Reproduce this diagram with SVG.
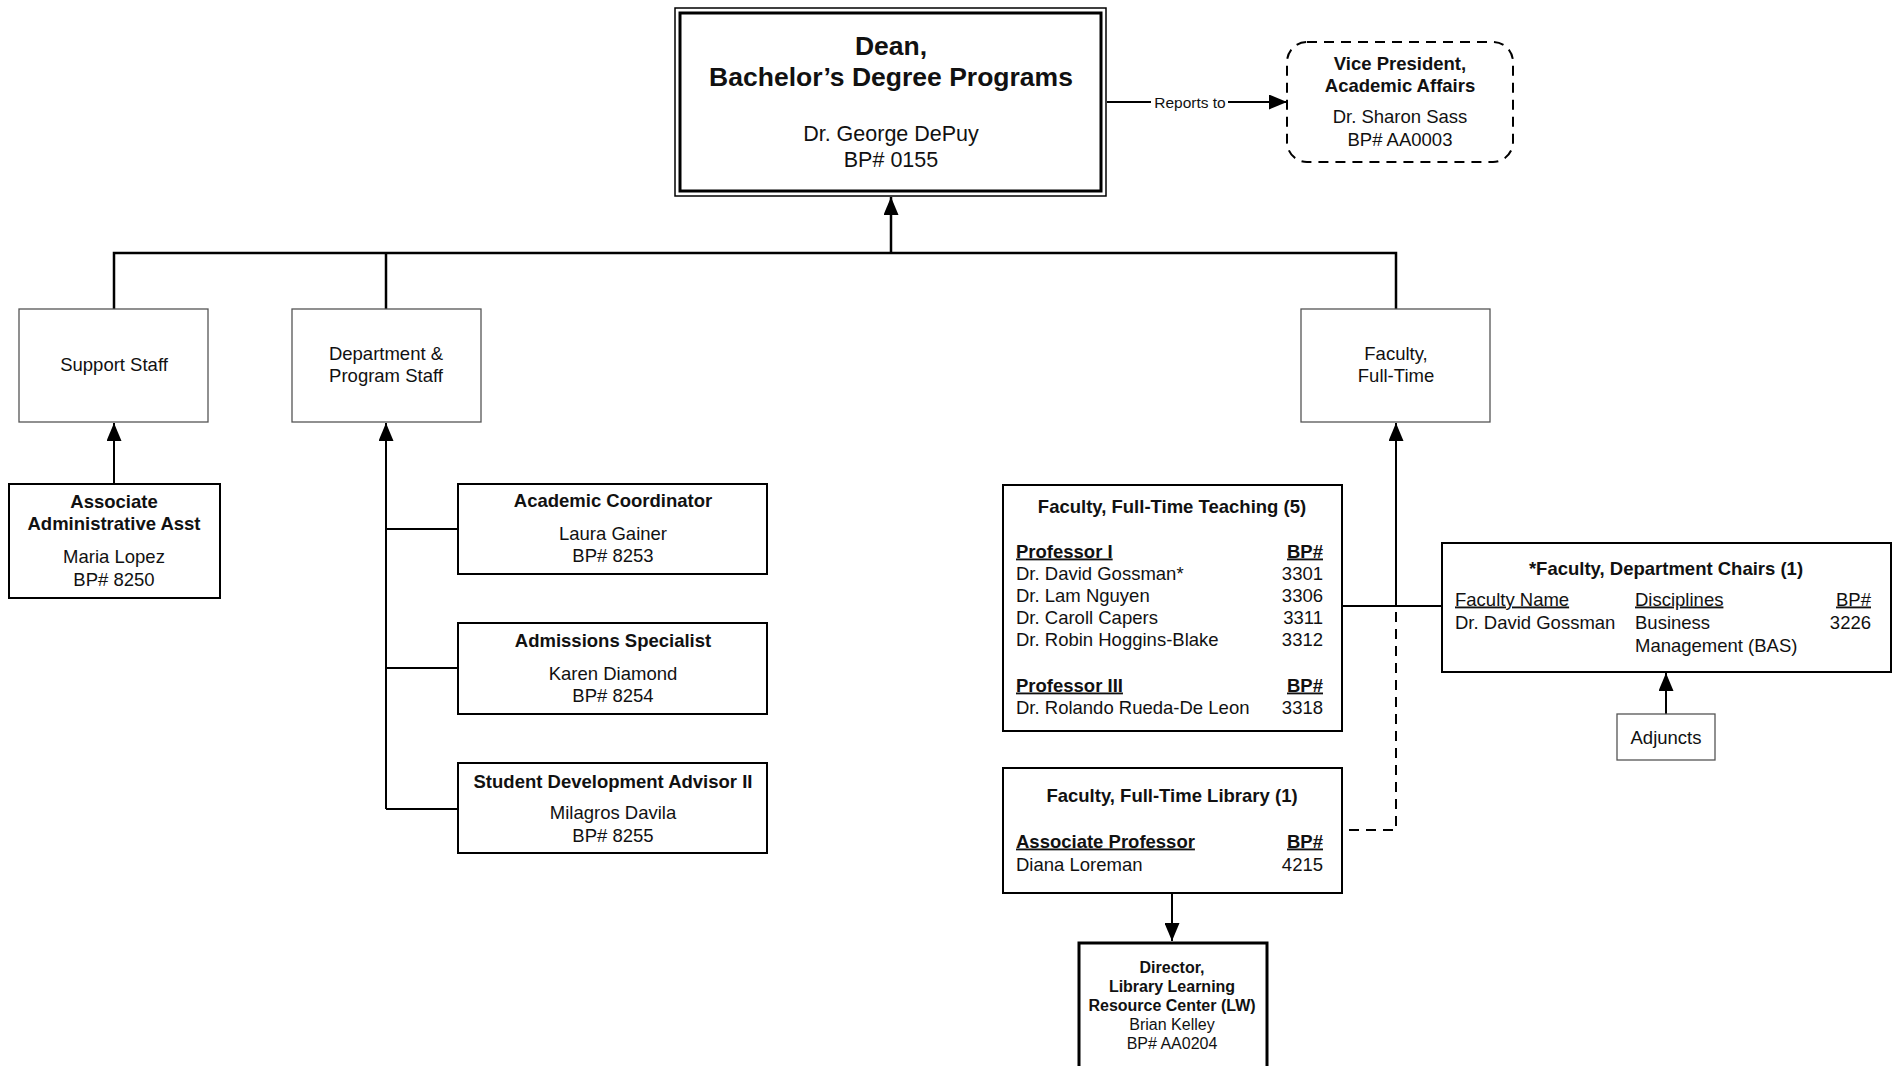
<svg xmlns="http://www.w3.org/2000/svg" width="1898" height="1066" viewBox="0 0 1898 1066">
<defs>
<marker id="arr" viewBox="0 0 18 15" refX="18" refY="7.5" markerWidth="18" markerHeight="15" orient="auto" markerUnits="userSpaceOnUse"><path d="M0,0 L18,7.5 L0,15 z" fill="#000"/></marker>
<style>
text{font-family:"Liberation Sans",Arial,sans-serif;fill:#111;}
.c{text-anchor:middle;}
.r{text-anchor:end;}
.b{font-weight:bold;}
.u{text-decoration:underline;}
.f{font-size:18.5px;}
.lvl{fill:#fff;stroke:#555;stroke-width:1.3;}
.box{fill:#fff;stroke:#000;stroke-width:2;}
.ln{fill:none;stroke:#000;stroke-width:2;}
.bus{fill:none;stroke:#000;stroke-width:2.5;}
.dash{fill:none;stroke:#000;stroke-width:2;stroke-dasharray:10 7;}
</style>
</defs>
<rect width="1898" height="1066" fill="#fff"/>
<g id="connectors">
<path class="bus" d="M114,309 V253 H1396 V309"/>
<path class="bus" d="M386,253 V309"/>
<path class="bus" d="M891,253 V197" marker-end="url(#arr)"/>
<path class="ln" d="M1107,102 H1151"/>
<path class="ln" d="M1228,102 H1287" marker-end="url(#arr)"/>
<text x="1190" y="107.5" class="c" font-size="15.5">Reports to</text>
<path class="ln" d="M114,483 V423" marker-end="url(#arr)"/>
<path class="ln" d="M386,809 V423" marker-end="url(#arr)"/>
<path class="ln" d="M386,529 H458 M386,668 H458 M386,809 H458"/>
<path class="ln" d="M1396,606 V423" marker-end="url(#arr)"/>
<path class="ln" d="M1342,606 H1442"/>
<path class="dash" d="M1396,612 V830 H1342"/>
<path class="ln" d="M1172,893 V941" marker-end="url(#arr)"/>
<path class="ln" d="M1666,714 V673" marker-end="url(#arr)"/>
</g>
<g id="dean">
<rect x="675" y="8" width="431" height="188" fill="#fff" stroke="#000" stroke-width="1.5"/>
<rect x="680" y="13" width="421" height="178" fill="none" stroke="#000" stroke-width="3"/>
<text x="891" y="55" class="c b" font-size="26.5">Dean,</text>
<text x="891" y="86" class="c b" font-size="26.5">Bachelor’s Degree Programs</text>
<text x="891" y="141" class="c" font-size="21.5">Dr. George DePuy</text>
<text x="891" y="167" class="c" font-size="21.5">BP# 0155</text>
</g>
<g id="vp">
<rect x="1287" y="42" width="226" height="120" rx="20" ry="20" class="dash" fill="#fff"/>
<text x="1400" y="69.5" class="c b" font-size="18.5">Vice President,</text>
<text x="1400" y="91.5" class="c b" font-size="18.5">Academic Affairs</text>
<text x="1400" y="122.5" class="c" font-size="18.5">Dr. Sharon Sass</text>
<text x="1400" y="145.5" class="c" font-size="18.5">BP# AA0003</text>
</g>
<g id="support-staff">
<rect x="19" y="309" width="189" height="113" class="lvl"/>
<text x="114" y="370.5" class="c f">Support Staff</text>
</g>
<g id="dept-staff">
<rect x="292" y="309" width="189" height="113" class="lvl"/>
<text x="386" y="359.5" class="c f">Department &amp;</text>
<text x="386" y="381.5" class="c f">Program Staff</text>
</g>
<g id="faculty-ft">
<rect x="1301" y="309" width="189" height="113" class="lvl"/>
<text x="1396" y="359.5" class="c f">Faculty,</text>
<text x="1396" y="381.5" class="c f">Full-Time</text>
</g>
<g id="assoc-admin">
<rect x="9" y="484" width="211" height="114" class="box"/>
<text x="114" y="507.5" class="c b f">Associate</text>
<text x="114" y="529.5" class="c b f">Administrative Asst</text>
<text x="114" y="562.5" class="c f">Maria Lopez</text>
<text x="114" y="585.5" class="c f">BP# 8250</text>
</g>
<g id="academic-coordinator">
<rect x="458" y="484" width="309" height="90" class="box"/>
<text x="613" y="506.5" class="c b f">Academic Coordinator</text>
<text x="613" y="539.5" class="c f">Laura Gainer</text>
<text x="613" y="561.5" class="c f">BP# 8253</text>
</g>
<g id="admissions-specialist">
<rect x="458" y="623" width="309" height="91" class="box"/>
<text x="613" y="646.5" class="c b f">Admissions Specialist</text>
<text x="613" y="679.5" class="c f">Karen Diamond</text>
<text x="613" y="701.5" class="c f">BP# 8254</text>
</g>
<g id="student-dev-advisor">
<rect x="458" y="763" width="309" height="90" class="box"/>
<text x="613" y="787.5" class="c b f">Student Development Advisor II</text>
<text x="613" y="818.5" class="c f">Milagros Davila</text>
<text x="613" y="841.5" class="c f">BP# 8255</text>
</g>
<g id="faculty-teaching">
<rect x="1003" y="485" width="339" height="246" class="box"/>
<text x="1172" y="512.5" class="c b f">Faculty, Full-Time Teaching (5)</text>
<text x="1016" y="557.5" class="b u f">Professor I</text>
<text x="1323" y="557.5" class="r b u f">BP#</text>
<text x="1016" y="579.5" class="f">Dr. David Gossman*</text>
<text x="1323" y="579.5" class="r f">3301</text>
<text x="1016" y="602" class="f">Dr. Lam Nguyen</text>
<text x="1323" y="602" class="r f">3306</text>
<text x="1016" y="624" class="f">Dr. Caroll Capers</text>
<text x="1323" y="624" class="r f">3311</text>
<text x="1016" y="646" class="f">Dr. Robin Hoggins-Blake</text>
<text x="1323" y="646" class="r f">3312</text>
<text x="1016" y="691.5" class="b u f">Professor III</text>
<text x="1323" y="691.5" class="r b u f">BP#</text>
<text x="1016" y="713.5" class="f">Dr. Rolando Rueda-De Leon</text>
<text x="1323" y="713.5" class="r f">3318</text>
</g>
<g id="faculty-library">
<rect x="1003" y="768" width="339" height="125" class="box"/>
<text x="1172" y="801.5" class="c b f">Faculty, Full-Time Library (1)</text>
<text x="1016" y="847.5" class="b u f">Associate Professor</text>
<text x="1323" y="847.5" class="r b u f">BP#</text>
<text x="1016" y="870.5" class="f">Diana Loreman</text>
<text x="1323" y="870.5" class="r f">4215</text>
</g>
<g id="director-library">
<rect x="1079" y="943" width="188" height="140" fill="#fff" stroke="#000" stroke-width="3"/>
<text x="1172" y="972.7" class="c b" font-size="16">Director,</text>
<text x="1172" y="991.7" class="c b" font-size="16">Library Learning</text>
<text x="1172" y="1010.7" class="c b" font-size="16">Resource Center (LW)</text>
<text x="1172" y="1029.7" class="c" font-size="16">Brian Kelley</text>
<text x="1172" y="1048.7" class="c" font-size="16">BP# AA0204</text>
</g>
<g id="dept-chairs">
<rect x="1442" y="543" width="449" height="129" class="box"/>
<text x="1666" y="574.5" class="c b f">*Faculty, Department Chairs (1)</text>
<text x="1455" y="605.5" class="u f">Faculty Name</text>
<text x="1635" y="605.5" class="u f">Disciplines</text>
<text x="1871" y="605.5" class="r u f">BP#</text>
<text x="1455" y="628.5" class="f">Dr. David Gossman</text>
<text x="1635" y="628.5" class="f">Business</text>
<text x="1871" y="628.5" class="r f">3226</text>
<text x="1635" y="651.5" class="f">Management (BAS)</text>
</g>
<g id="adjuncts">
<rect x="1617" y="714" width="98" height="46" class="lvl"/>
<text x="1666" y="743.5" class="c f">Adjuncts</text>
</g>
</svg>
